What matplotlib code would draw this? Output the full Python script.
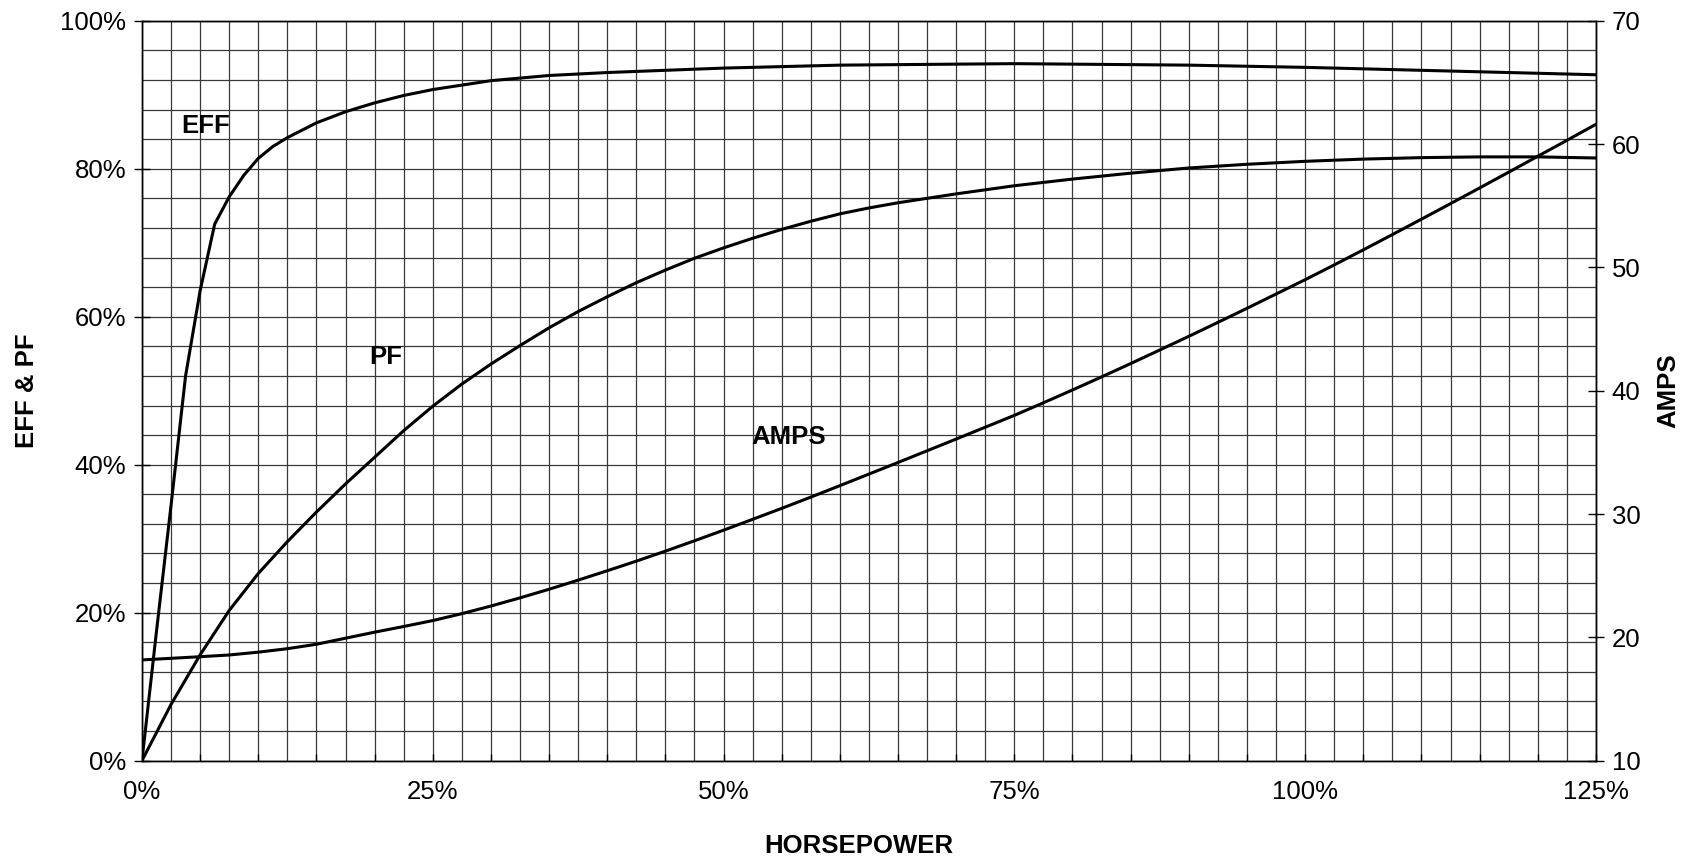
import numpy as np
import matplotlib
matplotlib.use('Agg')
import matplotlib.pyplot as plt
from matplotlib.ticker import MultipleLocator, FuncFormatter

plt.rcParams['font.family'] = ['Liberation Sans', 'DejaVu Sans']

#----------------------- data -----------------------#
# efficiency [%] vs horsepower [% of rated]
hp_eff = [0, 1.25, 2.5, 3.75, 5, 6.25, 7.5, 8.75, 10, 11.25, 12.5, 15, 17.5, 20, 22.5, 25,
          30, 35, 40, 50, 60, 75, 90, 100, 112.5, 125]
eff = [0, 17.5, 34.5, 52.0, 63.5, 72.5, 76.2, 79.1, 81.4, 83.0, 84.2, 86.2, 87.7, 88.9,
       89.9, 90.7, 91.9, 92.6, 93.0, 93.6, 94.0, 94.2, 94.0, 93.7, 93.2, 92.7]

# power factor [%]
hp_pf = [0, 2.5, 5, 7.5, 10, 12.5, 15, 17.5, 20, 22.5, 25, 27.5, 30, 32.5, 35, 37.5,
         40, 42.5, 45, 47.5, 50, 52.5, 55, 57.5, 60, 62.5, 65, 70, 75, 80, 85, 90,
         95, 100, 105, 110, 115, 120, 125]
pf = [0, 7.6, 14.3, 20.3, 25.3, 29.6, 33.6, 37.4, 41.0, 44.6, 47.9, 50.9, 53.6, 56.1,
      58.5, 60.7, 62.7, 64.6, 66.3, 67.9, 69.3, 70.6, 71.8, 72.9, 73.9, 74.7, 75.4,
      76.6, 77.7, 78.6, 79.4, 80.1, 80.6, 81.0, 81.3, 81.5, 81.6, 81.6, 81.45]

# line current [A], right axis
hp_amps = [0, 5, 7.5, 10, 12.5, 15, 17.5, 20, 22.5, 25, 27.5, 30, 32.5, 35, 37.5, 40,
           42.5, 45, 47.5, 50, 52.5, 55, 57.5, 60, 62.5, 65, 67.5, 70, 72.5, 75, 77.5,
           80, 82.5, 85, 87.5, 90, 92.5, 95, 97.5, 100, 102.5, 105, 107.5, 110, 112.5,
           115, 117.5, 120, 122.5, 125]
amps = [18.17, 18.43, 18.57, 18.8, 19.08, 19.44, 19.93, 20.42, 20.88, 21.36, 21.92, 22.54,
        23.20, 23.90, 24.64, 25.40, 26.18, 26.99, 27.83, 28.69, 29.57, 30.46, 31.37, 32.30,
        33.24, 34.18, 35.13, 36.08, 37.04, 38.00, 39.02, 40.06, 41.12, 42.20, 43.30, 44.41,
        45.54, 46.68, 47.84, 49.00, 50.20, 51.42, 52.66, 53.91, 55.17, 56.44, 57.72, 59.01,
        60.30, 61.60]

FS = 18.5

#------------------------------ PLOT ---------------------------#
fig = plt.figure(figsize=(16.94, 8.57), dpi=100)
ax = fig.add_axes([0.0838, 0.1124, 0.8583, 0.8634])
ax2 = ax.twinx()

ax.set_xlim(0, 125)
ax.set_ylim(0, 100)
ax2.set_ylim(10, 70)

# grid: 2.5 % horsepower by 4 % eff/pf
ax.xaxis.set_major_locator(MultipleLocator(5))
ax.xaxis.set_minor_locator(MultipleLocator(2.5))
ax.xaxis.set_major_formatter(FuncFormatter(lambda v, p: f'{v:.0f}%' if v % 25 == 0 else ''))
ax.yaxis.set_major_locator(MultipleLocator(20))
ax.yaxis.set_minor_locator(MultipleLocator(4))
ax.yaxis.set_major_formatter(FuncFormatter(lambda v, p: f'{v:.0f}%'))
ax.grid(True, which='both', color='#3a3a3a', linewidth=0.9)
ax.set_axisbelow(True)

ax.tick_params(axis='x', which='major', direction='in', length=5, width=1,
               labelsize=FS, pad=14)
ax.tick_params(axis='y', which='major', direction='inout', length=11.5, width=1,
               labelsize=FS, pad=5.5)
ax.tick_params(which='minor', length=0)

ax2.yaxis.set_major_locator(MultipleLocator(10))
ax2.tick_params(axis='y', direction='inout', length=11.5, width=1, labelsize=FS, pad=5.5)

for a in (ax, ax2):
    for s in a.spines.values():
        s.set_linewidth(1.0)
        s.set_color('black')

ax.plot(hp_eff, eff, color='black', linewidth=2.2, zorder=3)
ax.plot(hp_pf, pf, color='black', linewidth=2.2, zorder=3)
ax2.plot(hp_amps, amps, color='black', linewidth=2.2, zorder=3)

ax.text(5.5, 85.8, 'EFF', fontsize=FS, fontweight='bold', ha='center', va='center')
ax.text(21.0, 54.5, 'PF', fontsize=FS, fontweight='bold', ha='center', va='center')
ax.text(55.6, 43.7, 'AMPS', fontsize=FS, fontweight='bold', ha='center', va='center')

ax.set_xlabel('HORSEPOWER', fontsize=FS, fontweight='bold', va='center')
ax.xaxis.set_label_coords(0.493, -0.115)
ax.set_ylabel('EFF & PF', fontsize=FS, fontweight='bold', va='center')
ax.yaxis.set_label_coords(-0.079, 0.5)
ax2.set_ylabel('AMPS', fontsize=FS, fontweight='bold', va='center')
ax2.yaxis.set_label_coords(1.050, 0.5)

fig.savefig('out.png', dpi=100)
